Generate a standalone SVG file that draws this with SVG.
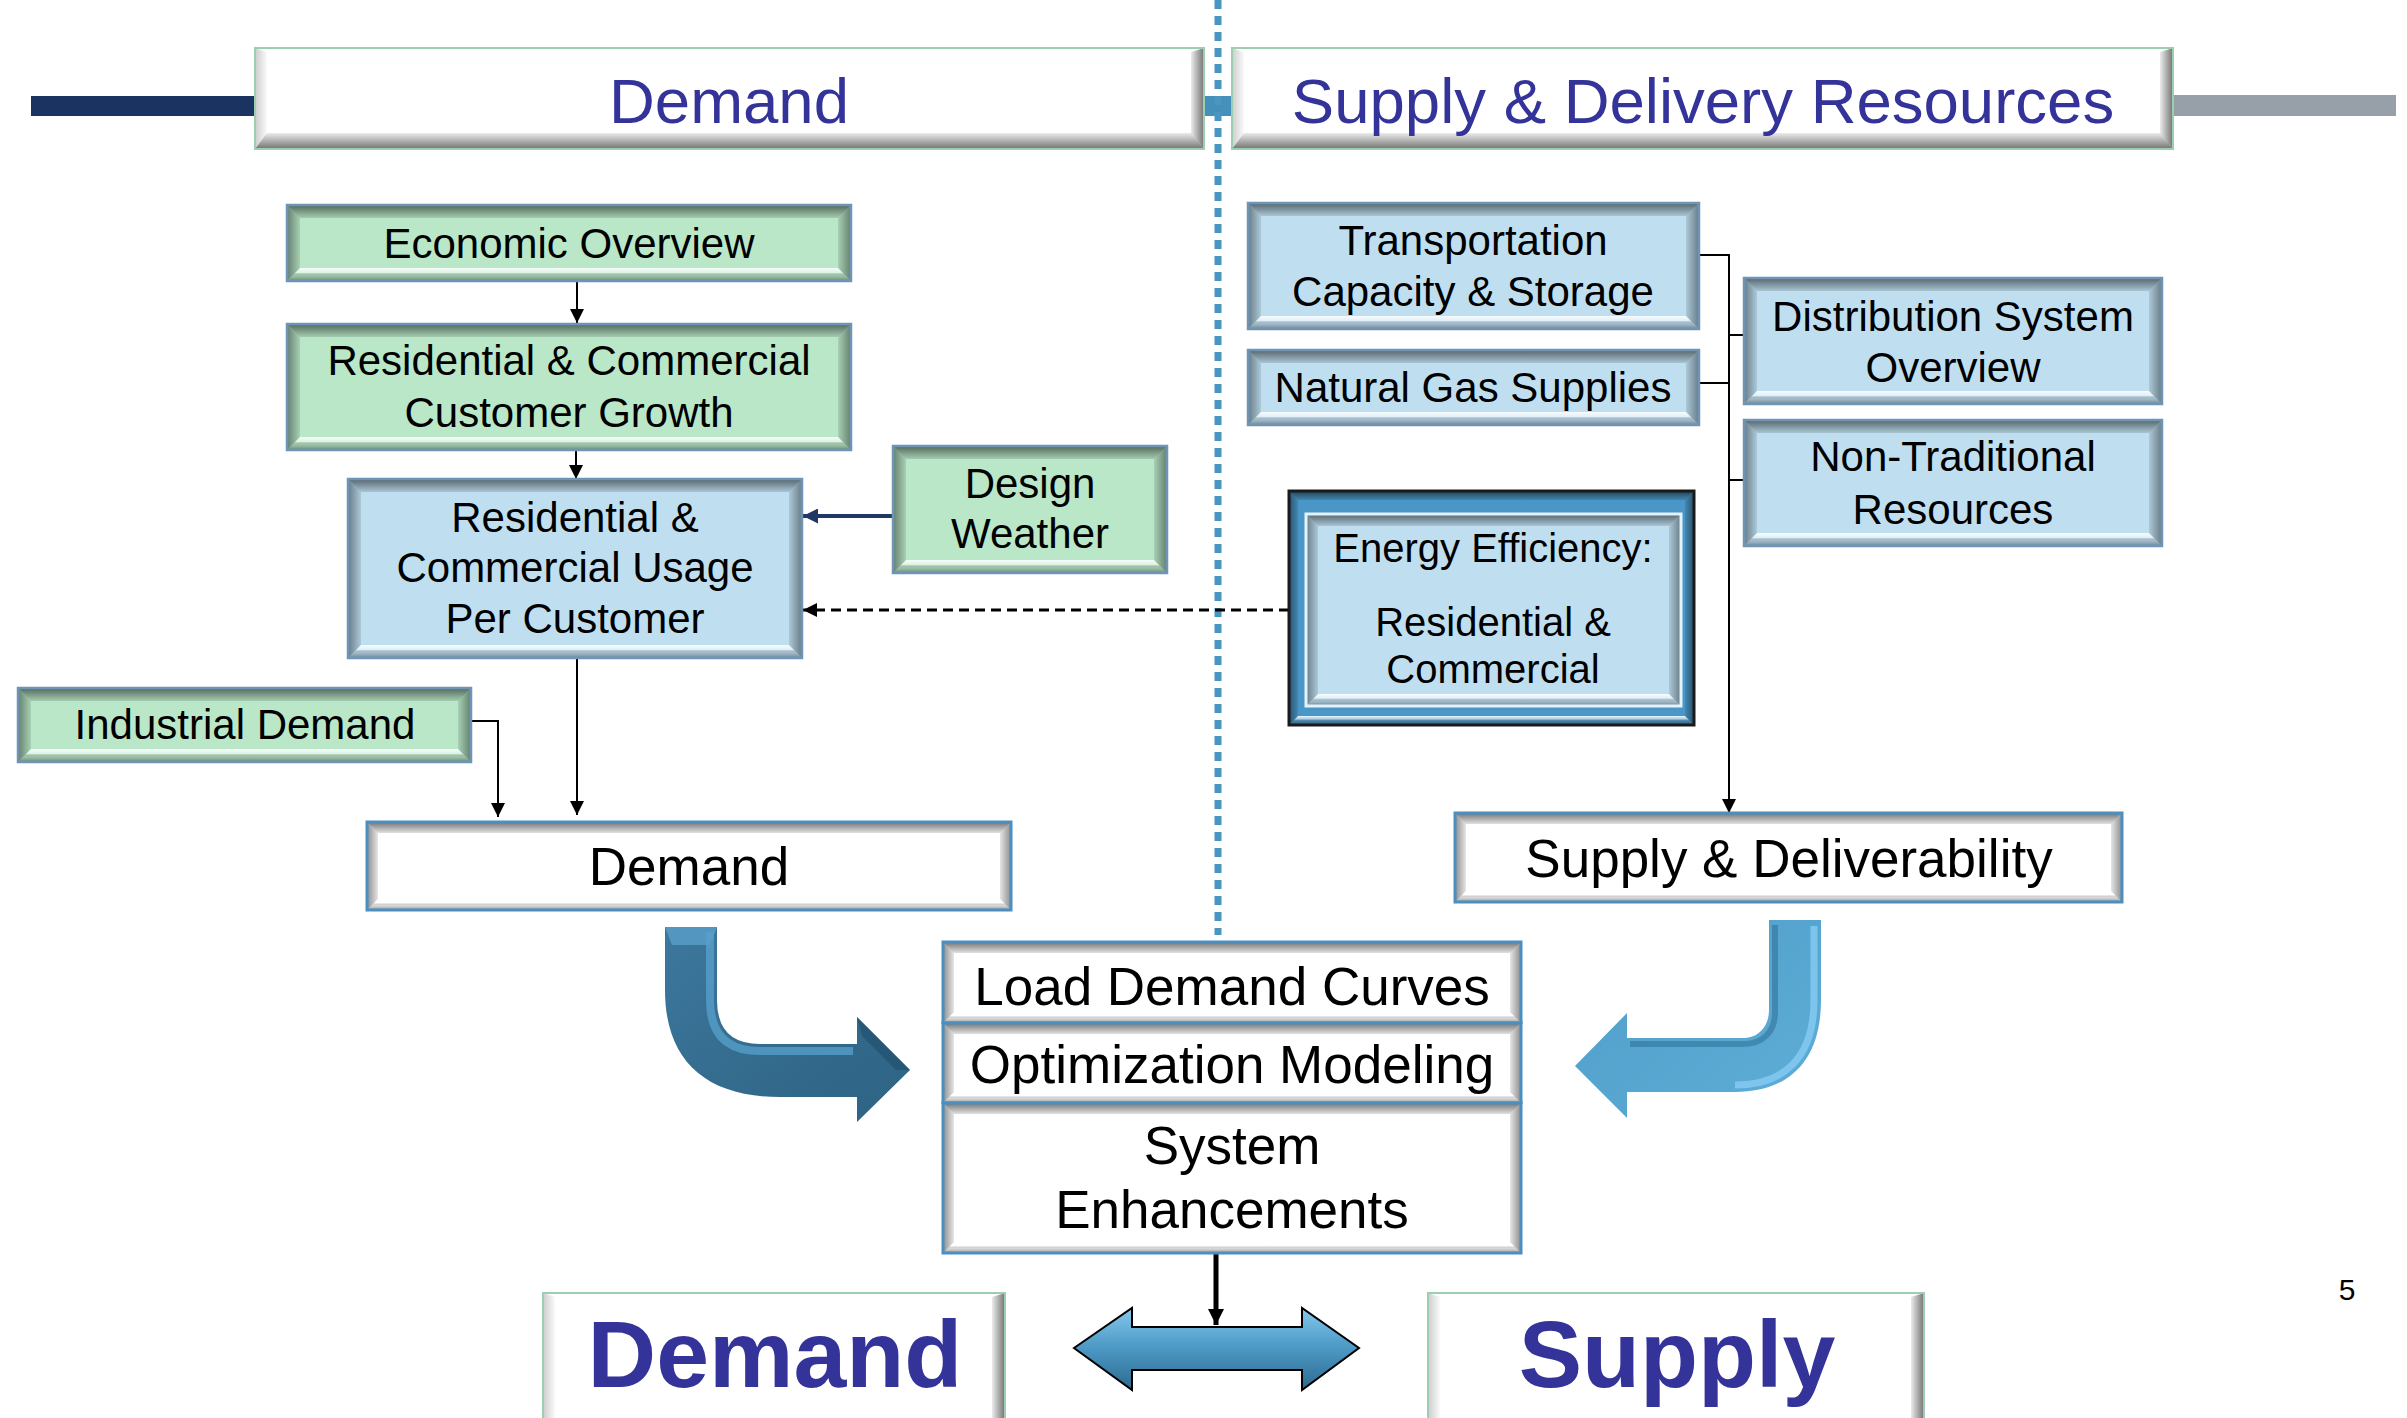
<svg xmlns="http://www.w3.org/2000/svg" width="2407" height="1418" viewBox="0 0 2407 1418">
<style>
.t{font-family:"Liberation Sans",Arial,sans-serif;font-size:42px;fill:#000;text-anchor:middle}
.t53{font-size:53px}
.ee{font-size:40px}
.h{font-size:63.5px;fill:#333399}
.big{font-size:95px;font-weight:bold;fill:#333399}
.green{fill:#b9e7c8}
.blue{fill:#bfdff1}
.white{fill:#ffffff}
.edge{fill:none;stroke:#6f95b6;stroke-width:2.5}
.edgeW{fill:none;stroke:#4a8fbf;stroke-width:3}
.edgeH{fill:none;stroke:#9ccfb0;stroke-width:2}
.iT{fill:url(#inTop)}
.iB{fill:url(#inBot)}
.iL{fill:url(#inLeft)}
.iR{fill:url(#inRight)}
.oL{fill:url(#outLeft)}
.oR{fill:url(#outRight)}
.oB{fill:url(#outBot)}
.oT{fill:#ffffff}
.con{fill:none;stroke:#000;stroke-width:2}
</style>
<defs>
<linearGradient id="inTop" x1="0" y1="0" x2="0" y2="1"><stop offset="0" stop-color="#000" stop-opacity="0.55"/><stop offset="1" stop-color="#000" stop-opacity="0.12"/></linearGradient>
<linearGradient id="inLeft" x1="0" y1="0" x2="1" y2="0"><stop offset="0" stop-color="#000" stop-opacity="0.45"/><stop offset="1" stop-color="#000" stop-opacity="0.1"/></linearGradient>
<linearGradient id="inRight" x1="0" y1="0" x2="1" y2="0"><stop offset="0" stop-color="#000" stop-opacity="0.1"/><stop offset="1" stop-color="#000" stop-opacity="0.45"/></linearGradient>
<linearGradient id="inBot" x1="0" y1="0" x2="0" y2="1"><stop offset="0" stop-color="#fff" stop-opacity="0.9"/><stop offset="0.35" stop-color="#fff" stop-opacity="0.5"/><stop offset="0.6" stop-color="#000" stop-opacity="0.15"/><stop offset="1" stop-color="#000" stop-opacity="0.4"/></linearGradient>
<linearGradient id="outLeft" x1="0" y1="0" x2="1" y2="0"><stop offset="0" stop-color="#000" stop-opacity="0.2"/><stop offset="1" stop-color="#000" stop-opacity="0.02"/></linearGradient>
<linearGradient id="outRight" x1="0" y1="0" x2="1" y2="0"><stop offset="0" stop-color="#000" stop-opacity="0.08"/><stop offset="1" stop-color="#000" stop-opacity="0.55"/></linearGradient>
<linearGradient id="outBot" x1="0" y1="0" x2="0" y2="1"><stop offset="0" stop-color="#000" stop-opacity="0.08"/><stop offset="1" stop-color="#000" stop-opacity="0.55"/></linearGradient>
<linearGradient id="dArr" x1="0" y1="0" x2="1" y2="1"><stop offset="0" stop-color="#3c779c"/><stop offset="1" stop-color="#2d6282"/></linearGradient>
<linearGradient id="sArr" x1="0" y1="0" x2="1" y2="1"><stop offset="0" stop-color="#4f9dc8"/><stop offset="1" stop-color="#5eaed8"/></linearGradient>
<linearGradient id="dbl" x1="0" y1="0" x2="0" y2="1"><stop offset="0" stop-color="#86c8ec"/><stop offset="0.45" stop-color="#4f9cc8"/><stop offset="1" stop-color="#2c6a90"/></linearGradient>
<marker id="ah" viewBox="0 0 10 10" refX="10" refY="5" markerUnits="userSpaceOnUse" markerWidth="16" markerHeight="14" orient="auto"><path d="M0,0 L10,5 L0,10 z" fill="#000"/></marker>
<marker id="ahN" viewBox="0 0 10 10" refX="10" refY="5" markerUnits="userSpaceOnUse" markerWidth="16" markerHeight="15" orient="auto"><path d="M0,0 L10,5 L0,10 z" fill="#1f3864"/></marker>
<marker id="ahB" viewBox="0 0 10 10" refX="10" refY="5" markerUnits="userSpaceOnUse" markerWidth="22" markerHeight="16" orient="auto"><path d="M0,0 L10,5 L0,10 z" fill="#000"/></marker>
</defs>
<rect width="2407" height="1418" fill="#fff"/>

<g id="header-bars">
<rect x="31" y="96" width="226" height="20" fill="#1b3360"/>
<rect x="2171" y="95" width="225" height="21" fill="#97a0a8"/>
<rect x="1202" y="96" width="32" height="20" fill="#4590bb"/>
<line x1="1218" y1="0" x2="1218" y2="935" stroke="#4a96c3" stroke-width="7" stroke-dasharray="9 7"/>
</g>

<g id="header-demand">
<rect x="255" y="48" width="949" height="101" class="white"/>
<polygon class="oT" points="255,48 1204,48 1191,52 267,52"/>
<polygon class="oL" points="255,48 267,52 267,133 255,149"/>
<polygon class="oR" points="1204,48 1191,52 1191,133 1204,149"/>
<polygon class="oB" points="255,149 1204,149 1191,133 267,133"/>
<rect x="255" y="48" width="949" height="101" class="edgeH"/>
<text class="t h" x="729" y="123">Demand</text>
</g>

<g id="header-supply">
<rect x="1232" y="48" width="941" height="101" class="white"/>
<polygon class="oT" points="1232,48 2173,48 2160,52 1244,52"/>
<polygon class="oL" points="1232,48 1244,52 1244,133 1232,149"/>
<polygon class="oR" points="2173,48 2160,52 2160,133 2173,149"/>
<polygon class="oB" points="1232,149 2173,149 2160,133 1244,133"/>
<rect x="1232" y="48" width="941" height="101" class="edgeH"/>
<text class="t h" x="1703" y="123">Supply &amp; Delivery Resources</text>
</g>

<g id="connectors">
<line class="con" x1="577" y1="281" x2="577" y2="323" marker-end="url(#ah)"/>
<line class="con" x1="576" y1="450" x2="576" y2="479" marker-end="url(#ah)"/>
<line x1="893" y1="516" x2="803" y2="516" stroke="#1f3864" stroke-width="4" marker-end="url(#ahN)"/>
<line x1="1289" y1="610" x2="803" y2="610" stroke="#000" stroke-width="3" stroke-dasharray="10 6" marker-end="url(#ah)"/>
<line class="con" x1="577" y1="658" x2="577" y2="815" marker-end="url(#ah)"/>
<polyline class="con" points="471,721 498,721 498,817" marker-end="url(#ah)"/>
<line class="con" x1="1699" y1="255" x2="1729" y2="255"/>
<line class="con" x1="1699" y1="383" x2="1729" y2="383"/>
<line class="con" x1="1729" y1="335" x2="1744" y2="335"/>
<line class="con" x1="1729" y1="480" x2="1744" y2="480"/>
<line class="con" x1="1729" y1="254" x2="1729" y2="813" marker-end="url(#ah)"/>
<line x1="1216" y1="1253" x2="1216" y2="1325" stroke="#000" stroke-width="5" marker-end="url(#ahB)"/>
</g>

<g id="economic-overview">
<rect x="287" y="205" width="564" height="76" class="green"/>
<polygon class="iT" points="287,205 851,205 838,218 300,218"/>
<polygon class="iB" points="287,281 851,281 838,268 300,268"/>
<polygon class="iL" points="287,205 300,218 300,268 287,281"/>
<polygon class="iR" points="851,205 838,218 838,268 851,281"/>
<rect x="287" y="205" width="564" height="76" class="edge"/>
<text class="t" x="569" y="258">Economic Overview</text>
</g>

<g id="customer-growth">
<rect x="287" y="324" width="564" height="126" class="green"/>
<polygon class="iT" points="287,324 851,324 838,337 300,337"/>
<polygon class="iB" points="287,450 851,450 838,437 300,437"/>
<polygon class="iL" points="287,324 300,337 300,437 287,450"/>
<polygon class="iR" points="851,324 838,337 838,437 851,450"/>
<rect x="287" y="324" width="564" height="126" class="edge"/>
<text class="t" x="569" y="375">Residential &amp; Commercial</text>
<text class="t" x="569" y="427">Customer Growth</text>
</g>

<g id="usage-per-customer">
<rect x="348" y="479" width="454" height="179" class="blue"/>
<polygon class="iT" points="348,479 802,479 789,492 361,492"/>
<polygon class="iB" points="348,658 802,658 789,645 361,645"/>
<polygon class="iL" points="348,479 361,492 361,645 348,658"/>
<polygon class="iR" points="802,479 789,492 789,645 802,658"/>
<rect x="348" y="479" width="454" height="179" class="edge"/>
<text class="t" x="575" y="532">Residential &amp;</text>
<text class="t" x="575" y="582">Commercial Usage</text>
<text class="t" x="575" y="633">Per Customer</text>
</g>

<g id="design-weather">
<rect x="893" y="446" width="274" height="127" class="green"/>
<polygon class="iT" points="893,446 1167,446 1154,459 906,459"/>
<polygon class="iB" points="893,573 1167,573 1154,560 906,560"/>
<polygon class="iL" points="893,446 906,459 906,560 893,573"/>
<polygon class="iR" points="1167,446 1154,459 1154,560 1167,573"/>
<rect x="893" y="446" width="274" height="127" class="edge"/>
<text class="t" x="1030" y="498">Design</text>
<text class="t" x="1030" y="548">Weather</text>
</g>

<g id="industrial-demand">
<rect x="18" y="688" width="453" height="74" class="green"/>
<polygon class="iT" points="18,688 471,688 458,701 31,701"/>
<polygon class="iB" points="18,762 471,762 458,749 31,749"/>
<polygon class="iL" points="18,688 31,701 31,749 18,762"/>
<polygon class="iR" points="471,688 458,701 458,749 471,762"/>
<rect x="18" y="688" width="453" height="74" class="edge"/>
<text class="t" x="245" y="739">Industrial Demand</text>
</g>

<g id="transportation">
<rect x="1248" y="203" width="451" height="126" class="blue"/>
<polygon class="iT" points="1248,203 1699,203 1686,216 1261,216"/>
<polygon class="iB" points="1248,329 1699,329 1686,316 1261,316"/>
<polygon class="iL" points="1248,203 1261,216 1261,316 1248,329"/>
<polygon class="iR" points="1699,203 1686,216 1686,316 1699,329"/>
<rect x="1248" y="203" width="451" height="126" class="edge"/>
<text class="t" x="1473" y="255">Transportation</text>
<text class="t" x="1473" y="306">Capacity &amp; Storage</text>
</g>

<g id="natural-gas">
<rect x="1248" y="350" width="451" height="75" class="blue"/>
<polygon class="iT" points="1248,350 1699,350 1686,363 1261,363"/>
<polygon class="iB" points="1248,425 1699,425 1686,412 1261,412"/>
<polygon class="iL" points="1248,350 1261,363 1261,412 1248,425"/>
<polygon class="iR" points="1699,350 1686,363 1686,412 1699,425"/>
<rect x="1248" y="350" width="451" height="75" class="edge"/>
<text class="t" x="1473" y="402">Natural Gas Supplies</text>
</g>

<g id="distribution">
<rect x="1744" y="278" width="418" height="126" class="blue"/>
<polygon class="iT" points="1744,278 2162,278 2149,291 1757,291"/>
<polygon class="iB" points="1744,404 2162,404 2149,391 1757,391"/>
<polygon class="iL" points="1744,278 1757,291 1757,391 1744,404"/>
<polygon class="iR" points="2162,278 2149,291 2149,391 2162,404"/>
<rect x="1744" y="278" width="418" height="126" class="edge"/>
<text class="t" x="1953" y="331">Distribution System</text>
<text class="t" x="1953" y="382">Overview</text>
</g>

<g id="non-traditional">
<rect x="1744" y="420" width="418" height="126" class="blue"/>
<polygon class="iT" points="1744,420 2162,420 2149,433 1757,433"/>
<polygon class="iB" points="1744,546 2162,546 2149,533 1757,533"/>
<polygon class="iL" points="1744,420 1757,433 1757,533 1744,546"/>
<polygon class="iR" points="2162,420 2149,433 2149,533 2162,546"/>
<rect x="1744" y="420" width="418" height="126" class="edge"/>
<text class="t" x="1953" y="471">Non-Traditional</text>
<text class="t" x="1953" y="524">Resources</text>
</g>

<g id="energy-efficiency">
<rect x="1289" y="491" width="405" height="234" fill="#4a96c6"/>
<polygon class="iT" points="1289,491 1694,491 1685,500 1298,500"/>
<polygon class="iB" points="1289,725 1694,725 1685,716 1298,716"/>
<polygon class="iL" points="1289,491 1298,500 1298,716 1289,725"/>
<polygon class="iR" points="1694,491 1685,500 1685,716 1694,725"/>
<rect x="1289" y="491" width="405" height="234" fill="none" stroke="#1a1a1a" stroke-width="3"/>
<rect x="1306" y="514" width="375" height="192" class="blue"/>
<polygon class="iT" points="1306,514 1681,514 1669,526 1318,526"/>
<polygon class="iB" points="1306,706 1681,706 1669,694 1318,694"/>
<polygon class="iL" points="1306,514 1318,526 1318,694 1306,706"/>
<polygon class="iR" points="1681,514 1669,526 1669,694 1681,706"/>
<rect x="1306" y="514" width="375" height="192" fill="none" stroke="#e4f2fa" stroke-width="3"/>
<text class="t ee" x="1493" y="562">Energy Efficiency:</text>
<text class="t ee" x="1493" y="636">Residential &amp;</text>
<text class="t ee" x="1493" y="683">Commercial</text>
</g>

<g id="demand-total">
<rect x="367" y="822" width="644" height="88" class="white"/>
<polygon class="iT" points="367,822 1011,822 1000,833 378,833"/>
<polygon class="iB" points="367,910 1011,910 1000,899 378,899"/>
<polygon class="iL" points="367,822 378,833 378,899 367,910"/>
<polygon class="iR" points="1011,822 1000,833 1000,899 1011,910"/>
<rect x="367" y="822" width="644" height="88" class="edgeW"/>
<text class="t t53" x="689" y="885">Demand</text>
</g>

<g id="supply-deliverability">
<rect x="1455" y="813" width="667" height="89" class="white"/>
<polygon class="iT" points="1455,813 2122,813 2111,824 1466,824"/>
<polygon class="iB" points="1455,902 2122,902 2111,891 1466,891"/>
<polygon class="iL" points="1455,813 1466,824 1466,891 1455,902"/>
<polygon class="iR" points="2122,813 2111,824 2111,891 2122,902"/>
<rect x="1455" y="813" width="667" height="89" class="edgeW"/>
<text class="t t53" x="1789" y="877">Supply &amp; Deliverability</text>
</g>

<g id="load-demand-curves">
<rect x="943" y="942" width="578" height="81" class="white"/>
<polygon class="iT" points="943,942 1521,942 1510,953 954,953"/>
<polygon class="iB" points="943,1023 1521,1023 1510,1012 954,1012"/>
<polygon class="iL" points="943,942 954,953 954,1012 943,1023"/>
<polygon class="iR" points="1521,942 1510,953 1510,1012 1521,1023"/>
<rect x="943" y="942" width="578" height="81" class="edgeW"/>
<text class="t t53" x="1232" y="1005">Load Demand Curves</text>
</g>

<g id="optimization-modeling">
<rect x="943" y="1023" width="578" height="80" class="white"/>
<polygon class="iT" points="943,1023 1521,1023 1510,1034 954,1034"/>
<polygon class="iB" points="943,1103 1521,1103 1510,1092 954,1092"/>
<polygon class="iL" points="943,1023 954,1034 954,1092 943,1103"/>
<polygon class="iR" points="1521,1023 1510,1034 1510,1092 1521,1103"/>
<rect x="943" y="1023" width="578" height="80" class="edgeW"/>
<text class="t t53" x="1232" y="1083">Optimization Modeling</text>
</g>

<g id="system-enhancements">
<rect x="943" y="1103" width="578" height="150" class="white"/>
<polygon class="iT" points="943,1103 1521,1103 1510,1114 954,1114"/>
<polygon class="iB" points="943,1253 1521,1253 1510,1242 954,1242"/>
<polygon class="iL" points="943,1103 954,1114 954,1242 943,1253"/>
<polygon class="iR" points="1521,1103 1510,1114 1510,1242 1521,1253"/>
<rect x="943" y="1103" width="578" height="150" class="edgeW"/>
<text class="t t53" x="1232" y="1164">System</text>
<text class="t t53" x="1232" y="1228">Enhancements</text>
</g>

<g id="demand-arrow">
<path d="M665,927 L717,927 L717,1000 Q717,1044 760,1044 L857,1044 L857,1017 L910,1070 L857,1122 L857,1097 L780,1097 C705,1097 665,1060 665,990 Z" fill="url(#dArr)"/>
<path d="M710,932 L710,1000 Q710,1051 760,1051 L853,1051" fill="none" stroke="#5aa5d2" stroke-width="8" stroke-opacity="0.7"/>
<polygon points="665,927 717,927 710,945 672,945" fill="#5a9fc8" opacity="0.8"/>
<polygon points="857,1017 910,1070 896,1070 862,1036" fill="#1f4d6a" opacity="0.6"/>
</g>

<g id="supply-arrow">
<path d="M1769,920 L1821,920 L1821,1000 C1821,1065 1785,1092 1735,1092 L1627,1092 L1627,1118 L1575,1066 L1627,1013 L1627,1038 L1743,1038 C1760,1038 1769,1025 1769,1010 Z" fill="url(#sArr)"/>
<path d="M1814,926 L1814,1000 C1814,1060 1782,1085 1735,1085" fill="none" stroke="#86ccf2" stroke-width="7" stroke-opacity="0.8"/>
<path d="M1775,925 L1775,1012 C1775,1032 1763,1044 1743,1044 L1630,1044" fill="none" stroke="#2f6f96" stroke-width="6" stroke-opacity="0.55"/>
</g>

<g id="double-arrow">
<path d="M1074,1348 L1132,1308 L1132,1327 L1302,1327 L1302,1308 L1359,1348 L1302,1390 L1302,1370 L1132,1370 L1132,1390 Z" fill="url(#dbl)" stroke="#000" stroke-width="2"/>
</g>

<g id="bottom-demand">
<rect x="543" y="1293" width="462" height="150" class="white"/>
<polygon class="oT" points="543,1293 1005,1293 992,1297 555,1297"/>
<polygon class="oL" points="543,1293 555,1297 555,1427 543,1443"/>
<polygon class="oR" points="1005,1293 992,1297 992,1427 1005,1443"/>
<rect x="543" y="1293" width="462" height="150" class="edgeH"/>
<text class="t big" x="775" y="1387">Demand</text>
</g>

<g id="bottom-supply">
<rect x="1428" y="1293" width="496" height="150" class="white"/>
<polygon class="oT" points="1428,1293 1924,1293 1911,1297 1440,1297"/>
<polygon class="oL" points="1428,1293 1440,1297 1440,1427 1428,1443"/>
<polygon class="oR" points="1924,1293 1911,1297 1911,1427 1924,1443"/>
<rect x="1428" y="1293" width="496" height="150" class="edgeH"/>
<text class="t big" x="1677" y="1387">Supply</text>
</g>

<text class="t" x="2347" y="1300" style="font-size:30px">5</text>
</svg>
